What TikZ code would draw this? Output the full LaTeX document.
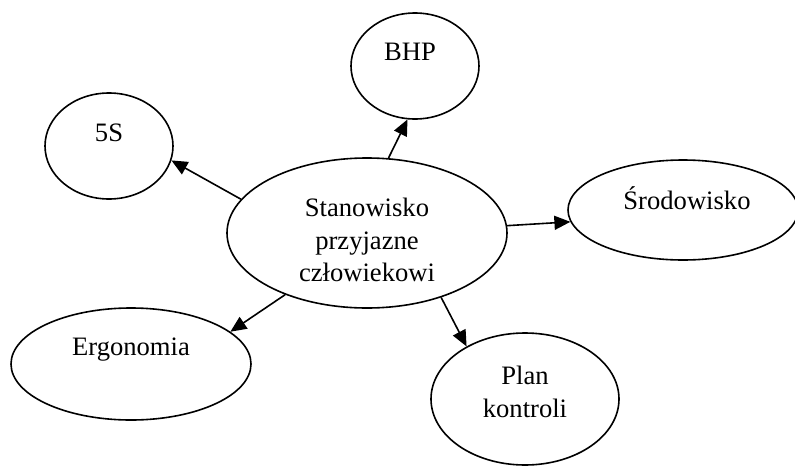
\documentclass[tikz,border=0pt]{standalone}
\usepackage{fontspec}
\setmainfont{Liberation Serif}
\usetikzlibrary{arrows.meta,shapes.geometric}

\begin{document}
\begin{tikzpicture}[x=1pt, y=-1pt,
    bubble/.style={draw, ellipse, line width=1.6pt, inner sep=0pt},
    arr/.style={-{Triangle[length=16pt,width=14pt]}, line width=1.6pt},
    font=\fontsize{26.6}{32.5}\selectfont]
    \useasboundingbox (0,0) rectangle (795,466);

    \node (main) [bubble, minimum width=280pt, minimum height=150pt,
        label={[align=center, yshift=-7pt]center:Stanowisko\\przyjazne\\człowiekowi}] at (367,233) {};
    \node (fiveS) [bubble, minimum width=128pt, minimum height=106pt,
        label={[yshift=13pt]center:5S}] at (109,146) {};
    \node (BHP) [bubble, minimum width=128pt, minimum height=106pt,
        label={[yshift=14pt, xshift=-5pt]center:BHP}] at (415,66) {};
    \node (env) [bubble, minimum width=230pt, minimum height=100pt,
        label={[yshift=12pt, xshift=4pt]center:Środowisko}] at (683,210) {};
    \node (ergo) [bubble, minimum width=240pt, minimum height=112pt,
        label={[yshift=14pt]center:Ergonomia}] at (131,364) {};
    \node (plan) [bubble, minimum width=188pt, minimum height=132pt,
        label={[align=center, yshift=7pt]center:Plan\\kontroli}] at (525,399) {};

    \draw[arr] (main.165) -- (fiveS.-13);
    \draw[arr] (main.74) -- (BHP.-98);
    \draw[arr] (main.3) -- (env.186);
    \draw[arr] (main.217) -- (ergo.18);
    \draw[arr] (main.-41) -- (plan.138);
\end{tikzpicture}
\end{document}
